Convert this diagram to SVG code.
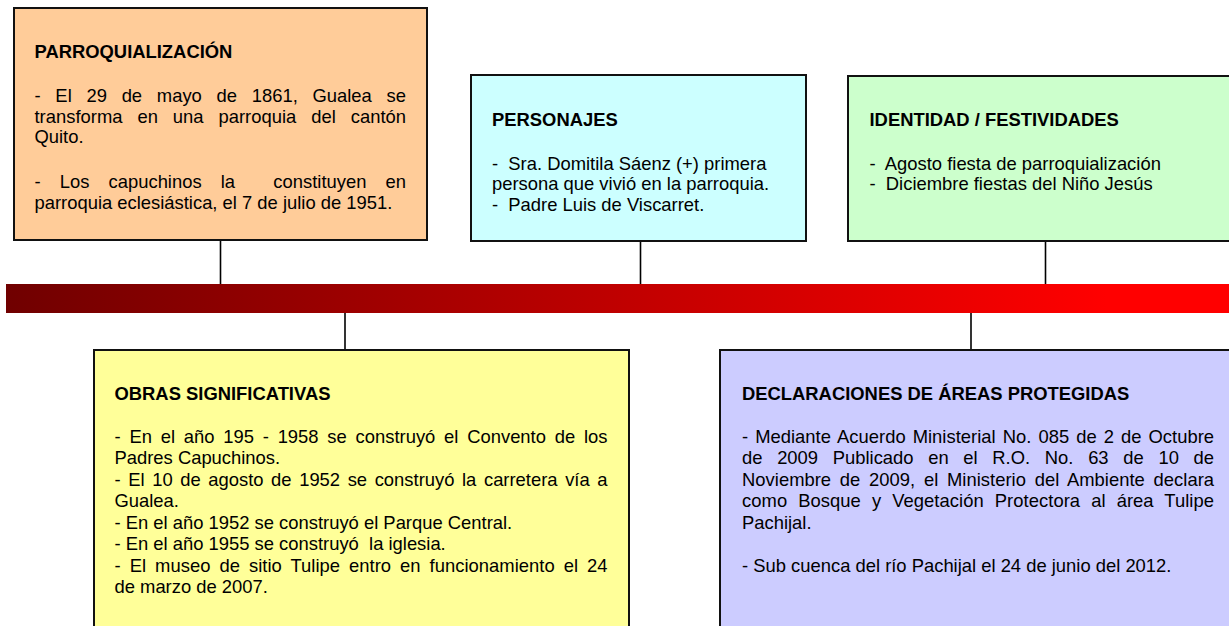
<svg xmlns="http://www.w3.org/2000/svg" width="1229" height="626" viewBox="0 0 1229 626">
<style>
.box{stroke:#111;stroke-width:2}
.t{font-family:"Liberation Sans",Arial,sans-serif;font-size:18.4px;fill:#000}
.h{font-weight:bold}
.c{stroke:#000;stroke-width:1.6;fill:none}
</style>
<defs>
<linearGradient id="bar" x1="6" y1="0" x2="1229" y2="0" gradientUnits="userSpaceOnUse">
<stop offset="0" stop-color="#700000"/>
<stop offset="0.9" stop-color="#FF0000"/>
<stop offset="1" stop-color="#FF0000"/>
</linearGradient>
</defs>
<rect x="0" y="0" width="1229" height="626" fill="#fff"/>
<g id="connectors">
<line class="c" x1="220.5" y1="240" x2="220.5" y2="284"/>
<line class="c" x1="640.5" y1="241" x2="640.5" y2="284"/>
<line class="c" x1="1045.5" y1="241" x2="1045.5" y2="284"/>
<line class="c" x1="345" y1="312" x2="345" y2="350"/>
<line class="c" x1="971" y1="312" x2="971" y2="350"/>
</g>
<g id="timeline">
<rect x="6" y="284" width="1230" height="29" fill="url(#bar)"/>
</g>
<g id="parroquializacion">
<rect class="box" x="14" y="8" width="413" height="232" fill="#FFCC99"/>
<text class="t h" x="34.5" y="58">PARROQUIALIZACIÓN</text>
<text class="t" x="34.5" y="101.5" word-spacing="9.61" textLength="371.5" lengthAdjust="spacing">- El 29 de mayo de 1861, Gualea se</text>
<text class="t" x="34.5" y="122.5" word-spacing="9.86" textLength="371.5" lengthAdjust="spacing">transforma en una parroquia del cantón</text>
<text class="t" x="34.5" y="143">Quito.</text>
<text class="t" x="34.5" y="187.5" word-spacing="14" textLength="371.5" lengthAdjust="spacing">- Los capuchinos la&#160; constituyen en</text>
<text class="t" x="34.5" y="208.5">parroquia eclesiástica, el 7 de julio de 1951.</text>
</g>
<g id="personajes">
<rect class="box" x="471" y="75" width="335" height="166" fill="#CCFFFF"/>
<text class="t h" x="492" y="126">PERSONAJES</text>
<text class="t" x="492" y="169.5">-&#160; Sra. Domitila Sáenz (+) primera</text>
<text class="t" x="492" y="190">persona que vivió en la parroquia.</text>
<text class="t" x="492" y="210.5">-&#160; Padre Luis de Viscarret.</text>
</g>
<g id="identidad">
<rect class="box" x="848" y="76" width="400" height="165" fill="#CCFFCC"/>
<text class="t h" x="869.5" y="126">IDENTIDAD / FESTIVIDADES</text>
<text class="t" x="869.5" y="169.5">-&#160; Agosto fiesta de parroquialización</text>
<text class="t" x="869.5" y="190">-&#160; Diciembre fiestas del Niño Jesús</text>
</g>
<g id="obras">
<rect class="box" x="94" y="350" width="535" height="300" fill="#FFFF99"/>
<text class="t h" x="114.5" y="399.5">OBRAS SIGNIFICATIVAS</text>
<text class="t" x="114.5" y="442.5" word-spacing="3.67" textLength="493" lengthAdjust="spacing">- En el año 195 - 1958 se construyó el Convento de los</text>
<text class="t" x="114.5" y="463.5">Padres Capuchinos.</text>
<text class="t" x="114.5" y="485.5" word-spacing="2.47" textLength="493" lengthAdjust="spacing">- El 10 de agosto de 1952 se construyó la carretera vía a</text>
<text class="t" x="114.5" y="507">Gualea.</text>
<text class="t" x="114.5" y="528.5">- En el año 1952 se construyó el Parque Central.</text>
<text class="t" x="114.5" y="550">- En el año 1955 se construyó&#160; la iglesia.</text>
<text class="t" x="114.5" y="571.5" word-spacing="3.89" textLength="493" lengthAdjust="spacing">- El museo de sitio Tulipe entro en funcionamiento el 24</text>
<text class="t" x="114.5" y="592.5">de marzo de 2007.</text>
</g>
<g id="areas">
<rect class="box" x="720" y="350" width="530" height="300" fill="#CCCCFF"/>
<text class="t h" x="742" y="399.5">DECLARACIONES DE ÁREAS PROTEGIDAS</text>
<text class="t" x="742" y="442.5" word-spacing="1.88" textLength="472" lengthAdjust="spacing">- Mediante Acuerdo Ministerial No. 085 de 2 de Octubre</text>
<text class="t" x="742" y="464" word-spacing="9.56" textLength="472" lengthAdjust="spacing">de 2009 Publicado en el R.O. No. 63 de 10 de</text>
<text class="t" x="742" y="485.5" word-spacing="3.59" textLength="472" lengthAdjust="spacing">Noviembre de 2009, el Ministerio del Ambiente declara</text>
<text class="t" x="742" y="507" word-spacing="5.92" textLength="472" lengthAdjust="spacing">como Bosque y Vegetación Protectora al área Tulipe</text>
<text class="t" x="742" y="528.5">Pachijal.</text>
<text class="t" x="742" y="571.5">- Sub cuenca del río Pachijal el 24 de junio del 2012.</text>
</g>
</svg>
